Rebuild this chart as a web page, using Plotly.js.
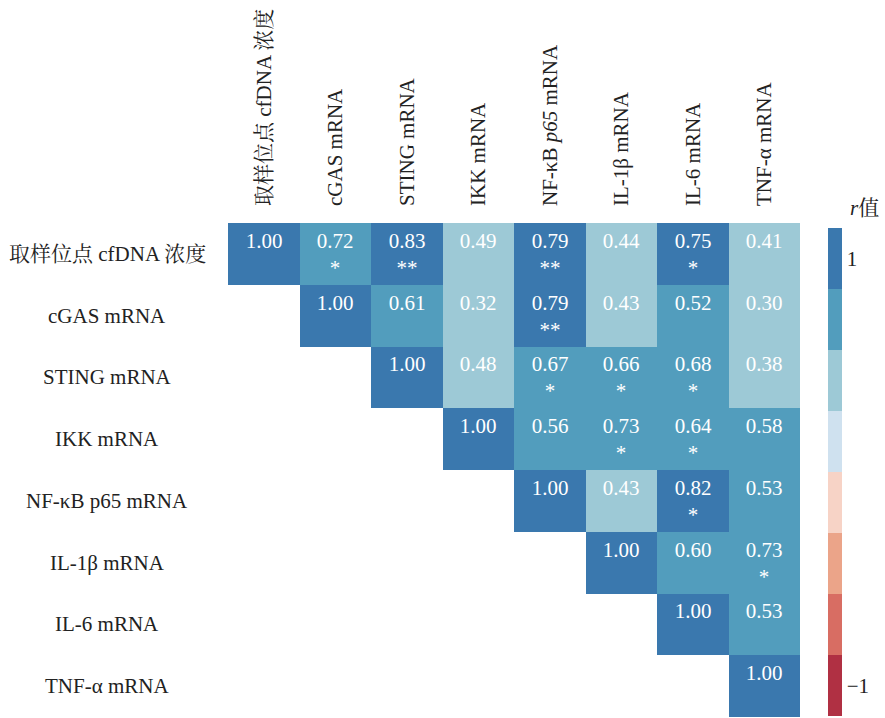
<!DOCTYPE html>
<html><head><meta charset="utf-8">
<script src="https://cdn.plot.ly/plotly-3.0.1.min.js"></script>
<style>html,body{margin:0;padding:0;background:#fff;}#chart{width:885px;height:718px;}</style>
</head><body><div id="chart"></div>
<script>
const colLabels = ["取样位点 cfDNA 浓度","cGAS mRNA","STING mRNA","IKK mRNA","NF-κB <i>p65</i> mRNA","IL-1β mRNA","IL-6 mRNA","TNF-α mRNA"];
const rowLabels = ["取样位点 cfDNA 浓度","cGAS mRNA","STING mRNA","IKK mRNA","NF-κB p65 mRNA","IL-1β mRNA","IL-6 mRNA","TNF-α mRNA"];
const rRow0 = [1.00, 0.72, 0.83, 0.49, 0.79, 0.44, 0.75, 0.41];
const rRow1 = [null, 1.00, 0.61, 0.32, 0.79, 0.43, 0.52, 0.30];
const rRow2 = [null, null, 1.00, 0.48, 0.67, 0.66, 0.68, 0.38];
const rRow3 = [null, null, null, 1.00, 0.56, 0.73, 0.64, 0.58];
const rRow4 = [null, null, null, null, 1.00, 0.43, 0.82, 0.53];
const rRow5 = [null, null, null, null, null, 1.00, 0.60, 0.73];
const rRow6 = [null, null, null, null, null, null, 1.00, 0.53];
const rRow7 = [null, null, null, null, null, null, null, 1.00];
const sig0 = ["", "*", "**", "", "**", "", "*", ""];
const sig1 = ["", "", "", "", "**", "", "", ""];
const sig2 = ["", "", "", "", "*", "*", "*", ""];
const sig3 = ["", "", "", "", "", "*", "*", ""];
const sig4 = ["", "", "", "", "", "", "*", ""];
const sig5 = ["", "", "", "", "", "", "", "*"];
const sig6 = ["", "", "", "", "", "", "", ""];
const sig7 = ["", "", "", "", "", "", "", ""];
const cbarTicks = ["1", "\u22121"];
const cbarTitle = "<i>r</i>值";

const z = [rRow0,rRow1,rRow2,rRow3,rRow4,rRow5,rRow6,rRow7];
const sigs = [sig0,sig1,sig2,sig3,sig4,sig5,sig6,sig7];
const text = z.map((row,i)=>row.map((v,j)=> v===null ? "" : v.toFixed(2) + "<br>" + (sigs[i][j] || "\u00a0")));

const cols = ["#b03043","#d86d63","#eba489","#f7d3c6","#cfe1ef","#9dc9d6","#529dbd","#3a78ae"];
const bounds = [0,0.125,0.25,0.375,0.5,0.625,0.75,0.8745,1];
const cs = [];
for (let k=0;k<8;k++){ cs.push([bounds[k], cols[k]]); cs.push([bounds[k+1], cols[k]]); }

const serif = "Liberation Serif, 'Times New Roman', 'Noto Serif CJK SC', 'Noto Sans CJK SC', serif";
const fs = 21;

const trace = {
  type: "heatmap",
  x: colLabels, y: rowLabels, z: z,
  text: text, texttemplate: "%{text}",
  textfont: {family: serif, size: fs, color: "#ffffff"},
  zmin: -1, zmax: 1, colorscale: cs,
  hoverongaps: false,
  colorbar: {
    thickness: 14, thicknessmode: "pixels",
    len: 488, lenmode: "pixels",
    x: 1 + (828-800)/572, xanchor: "left",
    y: (718-716)/494 - 0.002, yanchor: "bottom", ypad: 0, xpad: 0,
    outlinewidth: 0,
    tickvals: [0.875, -0.875], ticktext: cbarTicks,
    ticks: "", ticklabelpad: 10,
    tickfont: {family: serif, size: fs, color: "#222"}
  }
};

const annotations = rowLabels.map(l => ({
  text: l, x: (107-228)/572, xref: "paper", y: l, yref: "y",
  xanchor: "center", yanchor: "middle", showarrow: false,
  font: {family: serif, size: fs, color: "#222"}
}));
annotations.push({
  text: cbarTitle, x: (864-228)/572, xref: "paper", y: 1 + (223-208)/494, yref: "paper",
  xanchor: "center", yanchor: "middle", showarrow: false,
  font: {family: serif, size: fs, color: "#222"}
});

const layout = {
  width: 885, height: 718,
  margin: {l: 228, r: 85, t: 223, b: 1},
  paper_bgcolor: "#fff", plot_bgcolor: "#fff",
  xaxis: {side: "top", tickangle: -90, showgrid: false, zeroline: false, ticks: "",
          ticklabelstandoff: 16,
          tickfont: {family: serif, size: fs, color: "#222"}},
  yaxis: {autorange: "reversed", showgrid: false, zeroline: false, ticks: "", showticklabels: false},
  annotations: annotations
};

Plotly.newPlot("chart", [trace], layout, {displayModeBar: false, staticPlot: true});
</script></body></html>
